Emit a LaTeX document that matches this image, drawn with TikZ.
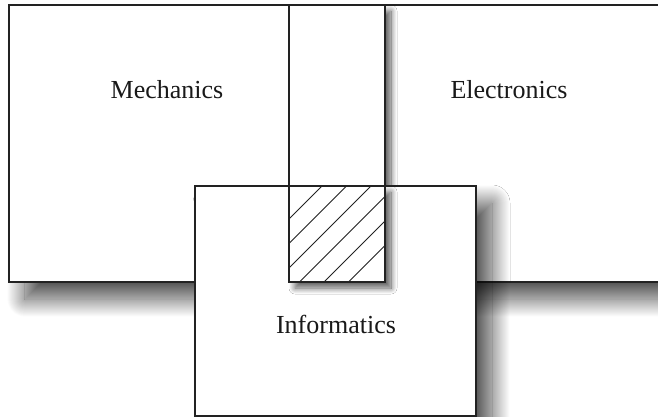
\documentclass[tikz,border=0pt]{standalone}
\usepackage{fontspec}
\setmainfont{Liberation Serif}
\usetikzlibrary{shadows.blur}
\definecolor{edge}{HTML}{222222}
\tikzset{
  box/.style={draw=edge, line width=1.2pt, fill=white, rectangle, inner sep=0pt, outer sep=0pt},
  bigshadow/.style={blur shadow={shadow xshift=16pt, shadow yshift=-17pt, shadow blur radius=18pt, shadow opacity=70, shadow blur steps=36}},
  smallshadow/.style={blur shadow={shadow xshift=6pt, shadow yshift=-6pt, shadow blur radius=6pt, shadow opacity=65, shadow blur steps=16}},
  label/.style={font=\fontsize{26}{30}\selectfont, text=black!90, anchor=base, inner sep=0pt},
  hatchline/.style={draw=edge, line width=0.9pt}
}
\begin{document}
\begin{tikzpicture}[x=1pt, y=-1pt]
\useasboundingbox (0,0) rectangle (658,417);
\clip (0,0) rectangle (658,417);
\node[box, bigshadow, minimum width=280pt, minimum height=277pt] (mech) at (149,143.5) {};
\node[box, bigshadow, minimum width=335pt, minimum height=277pt] (elec) at (552.5,143.5) {};
\node[box, smallshadow, minimum width=96pt, minimum height=277pt] (strip) at (337,143.5) {};
\node[box, bigshadow, minimum width=281pt, minimum height=230pt] (info) at (335.5,301) {};
\node[box, smallshadow, minimum width=96pt, minimum height=96pt] (hatch) at (337,234) {};
\begin{scope}
  \clip (hatch.south west) rectangle (hatch.north east);
  \foreach \c in {508,532.5,557,581.5,606,630.5} {
    \draw[hatchline] (\c-176,176) -- (\c-292,292);
  }
\end{scope}
\draw[draw=edge, line width=1.2pt] (hatch.south west) rectangle (hatch.north east);
\node[label] (tmech) at (167,99) {Mechanics};
\node[label] (telec) at (509,99) {Electronics};
\node[label] (tinfo) at (336,333) {Informatics};
\end{tikzpicture}
\end{document}
